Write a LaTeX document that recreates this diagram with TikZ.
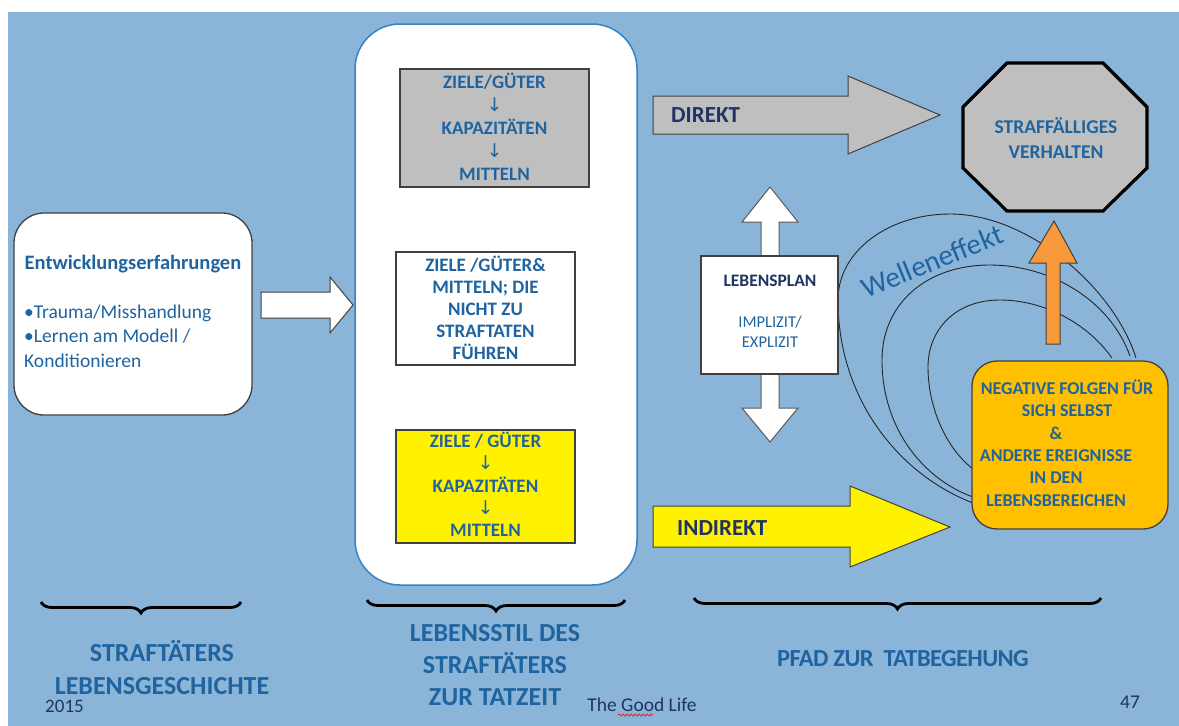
\documentclass[tikz,border=0pt]{standalone}
\usepackage{fontspec}
\setmainfont{Carlito}
\newfontfamily\dvfont{DejaVu Sans}
\usetikzlibrary{decorations.pathreplacing,decorations.pathmorphing}
\definecolor{bgblue}{RGB}{139,181,216}
\definecolor{tblue}{RGB}{31,100,160}
\definecolor{navy}{RGB}{31,52,100}
\definecolor{boxgray}{RGB}{191,191,191}
\definecolor{edgegray}{RGB}{64,64,64}
\definecolor{lifeblue}{RGB}{52,130,200}
\definecolor{orbox}{RGB}{255,192,0}
\definecolor{orarrow}{RGB}{247,153,58}
\newcommand{\darr}{{\dvfont\mdseries\fontsize{19}{19}\selectfont ↓}}
\begin{document}
\begin{tikzpicture}[x=1pt,y=-1pt,
  txt/.style={text=tblue, inner sep=0pt, align=center},
  navytxt/.style={text=navy, inner sep=0pt, align=center},
  blockarrow/.style={draw=edgegray, line width=1pt, line join=miter},
  bracestyle/.style={decorate, decoration={brace, mirror, amplitude=11pt}, line width=2.8pt, black},
  wave/.style={draw=black!85, line width=0.9pt}
]
\useasboundingbox (0,0) rectangle (1179,726);
\fill[white] (0,0) rectangle (1179,726);
\fill[bgblue] (8,12) rectangle (1179,726);

% left box
\node[draw=edgegray, line width=1.3pt, fill=white, rounded corners=30pt, minimum width=238pt, minimum height=202pt, inner sep=0pt] (hist) at (133,314) {};
\node[txt, font=\bfseries\fontsize{20.5}{24}\selectfont] (histtitle) at (133,264) {Entwicklungserfahrungen};
\node[txt, anchor=west, align=left, font=\fontsize{19.5}{24.5}\selectfont] (histlist) at (24,336) {•Trauma/Misshandlung\\•Lernen am Modell /\\Konditionieren};

% arrow from history to lifestyle
\filldraw[blockarrow, fill=white] (261,292) -- (330,292) -- (330,277) -- (353,305) -- (330,333) -- (330,318) -- (261,318) -- cycle;

% big lifestyle box
\node[draw=lifeblue, line width=1.5pt, fill=white, rounded corners=45pt, minimum width=282pt, minimum height=561pt, inner sep=0pt] (life) at (496,304.5) {};

% gray box
\node[draw=edgegray, line width=1.3pt, fill=boxgray, minimum width=189pt, minimum height=118pt, inner sep=0pt] (graybox) at (494.5,128) {};
\node[txt, font=\bfseries\fontsize{19}{23}\selectfont] (graytext) at (494.5,127) {ZIELE/GÜTER\\\darr\\KAPAZITÄTEN\\\darr\\MITTELN};

% white middle box
\node[draw=edgegray, line width=1.3pt, fill=white, minimum width=179pt, minimum height=113pt, inner sep=0pt] (midbox) at (485.5,308.5) {};
\node[txt, font=\bfseries\fontsize{19}{22}\selectfont] (midtext) at (485.5,308) {ZIELE /GÜTER\&\\MITTELN; DIE\\NICHT ZU\\STRAFTATEN\\FÜHREN};

% yellow box
\node[draw=edgegray, line width=1.3pt, fill=yellow, minimum width=179pt, minimum height=113pt, inner sep=0pt] (yelbox) at (485.5,486.5) {};
\node[txt, font=\bfseries\fontsize{19}{22.3}\selectfont] (yeltext) at (485.5,484.5) {ZIELE / GÜTER\\\darr\\KAPAZITÄTEN\\\darr\\MITTELN};

% DIREKT arrow
\filldraw[blockarrow, fill=boxgray] (653,96) -- (848,96) -- (848,76) -- (940,115) -- (848,154) -- (848,134) -- (653,134) -- cycle;
\node[navytxt, font=\bfseries\fontsize{23}{23}\selectfont, anchor=west] (direkt) at (671,115) {DIREKT};

% octagon
\filldraw[draw=black, line width=3.2pt, fill=boxgray, line join=miter]
  (1007,63) -- (1103,63) -- (1147,107) -- (1147,168) -- (1103,211) -- (1007,211) -- (963,168) -- (963,107) -- cycle;
\node[txt, font=\bfseries\fontsize{19.5}{25}\selectfont] (straf) at (1056,138.5) {STRAFFÄLLIGES\\VERHALTEN};

% wave curves
\draw[wave] (1136,358) .. controls (1115,290) and (1030,214) .. (950,214)
  .. controls (890,214) and (838,250) .. (838,300)
  .. controls (838,400) and (900,475) .. (973,503);
\draw[wave] (1130,356) .. controls (1110,300) and (1050,265) .. (990,265)
  .. controls (925,265) and (882,305) .. (882,360)
  .. controls (882,430) and (925,480) .. (973,497);
\draw[wave] (1112,358) .. controls (1085,320) and (1040,300) .. (1000,300)
  .. controls (955,300) and (928,330) .. (928,367)
  .. controls (928,410) and (948,450) .. (973,469);
\node[text=tblue, inner sep=0pt, rotate=22, font=\fontsize{29}{29}\selectfont] (welle) at (932,261) {Welleneffekt};

% Lebensplan double arrow
\filldraw[blockarrow, draw=gray!70!black, fill=white] (770,187) -- (798,222) -- (779,222) -- (779,408) -- (798,408) -- (770,442) -- (742,408) -- (761,408) -- (761,222) -- (742,222) -- cycle;
\node[draw=edgegray, line width=1.3pt, fill=white, minimum width=137pt, minimum height=118pt, inner sep=0pt] (plan) at (769.5,315) {};
\node[navytxt, font=\bfseries\fontsize{17.5}{20}\selectfont] (plantitle) at (770,281) {LEBENSPLAN};
\node[txt, font=\fontsize{16.5}{20.5}\selectfont] (plansub) at (770,332) {IMPLIZIT/\\EXPLIZIT};

% orange box and arrow
\node[draw=edgegray, line width=1.3pt, fill=orbox, rounded corners=25pt, minimum width=196pt, minimum height=168pt, inner sep=0pt] (neg) at (1070,445) {};
\node[txt, font=\bfseries\fontsize{18}{22.4}\selectfont] (negtext) at (1067,443) {NEGATIVE FOLGEN FÜR\\SICH SELBST\\\&\hspace*{22pt}\mbox{}\\ANDERE EREIGNISSE\hspace*{22pt}\mbox{}\\IN DEN\hspace*{22pt}\mbox{}\\LEBENSBEREICHEN\hspace*{22pt}\mbox{}};
\filldraw[blockarrow, fill=orarrow] (1054,221) -- (1077,263) -- (1060,263) -- (1060,344) -- (1046,344) -- (1046,263) -- (1029,263) -- cycle;

% INDIREKT arrow
\filldraw[blockarrow, fill=yellow] (653,506) -- (850,506) -- (850,486) -- (950,527) -- (850,567) -- (850,547) -- (653,547) -- cycle;
\node[navytxt, font=\bfseries\fontsize{23}{23}\selectfont, anchor=west] (indirekt) at (677,528) {INDIREKT};

% braces
\coordinate (b1l) at (41,602); \coordinate (b1r) at (241,602);
\coordinate (b2l) at (367,600); \coordinate (b2r) at (625,600);
\coordinate (b3l) at (694,598); \coordinate (b3r) at (1101,598);
\draw[bracestyle] (b1l) -- (b1r);
\draw[bracestyle] (b2l) -- (b2r);
\draw[bracestyle] (b3l) -- (b3r);

% bottom labels
\node[txt, font=\bfseries\fontsize{26}{33}\selectfont] (lab1) at (162,667) {STRAFTÄTERS\\LEBENSGESCHICHTE};
\node[txt, font=\bfseries\fontsize{26}{32}\selectfont] (lab2) at (495,665) {LEBENSSTIL DES\\STRAFTÄTERS\\ZUR TATZEIT};
\node[txt, font=\bfseries\fontsize{24.5}{24}\selectfont\addfontfeature{LetterSpace=-2.5}] (lab3) at (903,659) {PFAD ZUR\ \ TATBEGEHUNG};

% footer
\node[navytxt, font=\fontsize{19}{19}\selectfont] (year) at (64.5,706) {2015};
\node[navytxt, font=\fontsize{19.5}{19.5}\selectfont] (title) at (642,705) {The Good Life};
\draw[red, line width=0.7pt, decorate, decoration={snake, amplitude=1pt, segment length=4pt}] (618,715) -- (653,715);
\node[navytxt, font=\fontsize{19.5}{19.5}\selectfont] (page) at (1130,702) {47};
\end{tikzpicture}
\end{document}
